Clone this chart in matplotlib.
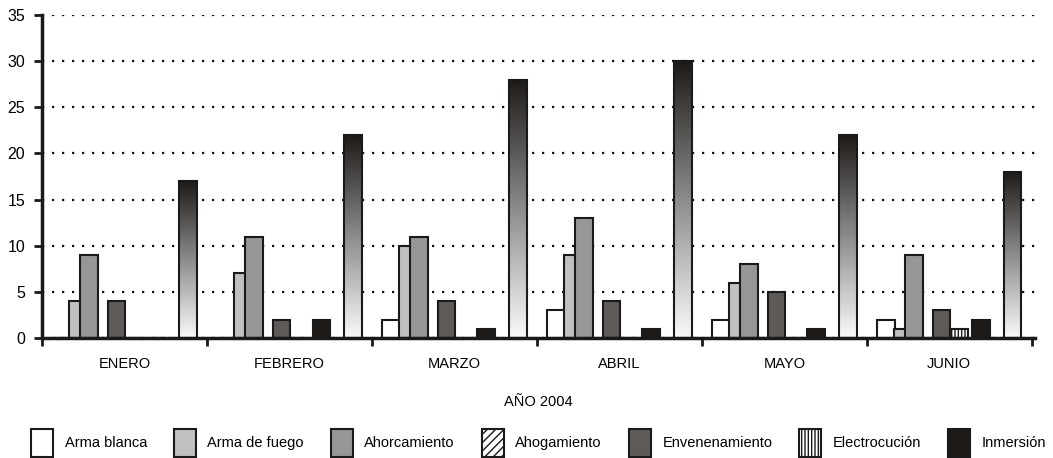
import numpy as np
import matplotlib
matplotlib.use("Agg")
import matplotlib.pyplot as plt
from matplotlib.patches import Patch
from matplotlib.colors import LinearSegmentedColormap

# suicide cases by method, first half of 2004
months = ['ENERO', 'FEBRERO', 'MARZO', 'ABRIL', 'MAYO', 'JUNIO']
arma_blanca = [0, 0, 2, 3, 2, 2]
arma_fuego = [4, 7, 10, 9, 6, 1]
ahorcamiento = [9, 11, 11, 13, 8, 9]
ahogamiento = [0, 0, 0, 0, 0, 0]
envenenamiento = [4, 2, 4, 4, 5, 3]
electrocucion = [0, 0, 0, 0, 0, 1]
inmersion = [0, 2, 1, 1, 1, 2]
labels = ['Arma blanca', 'Arma de fuego', 'Ahorcamiento', 'Ahogamiento',
          'Envenenamiento', 'Electrocución', 'Inmersión']

series = [arma_blanca, arma_fuego, ahorcamiento, ahogamiento,
          envenenamiento, electrocucion, inmersion]
total = np.sum(np.array(series), axis=0)

plt.rcParams['font.family'] = ['Liberation Sans', 'DejaVu Sans']
plt.rcParams['hatch.linewidth'] = 1.0

# left edge of each bar inside a month slot, and bar width
offsets = [0.064, 0.165, 0.232, 0.315, 0.400, 0.508, 0.640]
total_offset = 0.832
width = 0.106
styles = [
    dict(color='white'),
    dict(color='#c0c0c0'),
    dict(color='#969696'),
    dict(color='white', hatch='////'),
    dict(color='#5f5a58'),
    dict(color='white', hatch='|||||'),
    dict(color='#1e1a18'),
]

fig = plt.figure(figsize=(10.53, 4.58), dpi=100)
ax = fig.add_axes([0.0399, 0.262, 0.943, 0.705])

x = np.arange(len(months))
for vals, off, st in zip(series, offsets, styles):
    ax.bar(x + off, vals, width=width, align='edge', facecolor=st['color'],
           edgecolor='#1a1a1a', linewidth=1.5, hatch=st.get('hatch'), zorder=3)

# total bars with a vertical grey gradient
grad_cmap = LinearSegmentedColormap.from_list('g', ['#fafafa', '#8c8c8c', '#1e1a18'])
grad = np.linspace(0, 1, 256).reshape(-1, 1)
for xi, h in zip(x, total):
    x0 = xi + total_offset
    ax.imshow(grad, extent=[x0, x0 + width, 0, h], origin='lower',
              aspect='auto', cmap=grad_cmap, zorder=3)
    ax.bar(x0, h, width=width, align='edge', facecolor='none',
           edgecolor='#1a1a1a', linewidth=1.5, zorder=4)

ax.set_xlim(0, 6.02)
ax.set_ylim(0, 35)
ax.set_yticks(range(0, 36, 5))
ax.yaxis.grid(True, color='#111111', linestyle=(0, (1, 3.5)), linewidth=1.6)
ax.set_axisbelow(True)

for s in ['top', 'right']:
    ax.spines[s].set_visible(False)
for s in ['left', 'bottom']:
    ax.spines[s].set_linewidth(2.5)
    ax.spines[s].set_color('#1a1a1a')
    ax.spines[s].set_zorder(6)

ax.tick_params(axis='y', length=6, width=2, labelsize=11.5, pad=6, color='#1a1a1a')
ax.set_xticks(x + 0.5)
ax.set_xticklabels(months, fontsize=10.5)
ax.set_xticks(np.arange(0, 7), minor=True)
ax.tick_params(axis='x', which='major', length=0, pad=14)
ax.tick_params(axis='x', which='minor', length=6, width=2, color='#1a1a1a')
ax.set_xlabel('AÑO 2004', fontsize=10.5, labelpad=17)

handles = [Patch(facecolor=st['color'], edgecolor='#1a1a1a', linewidth=1.5,
                 hatch=st.get('hatch'), label=lab)
           for st, lab in zip(styles, labels)]
fig.legend(handles=handles, loc='lower left', ncol=7, frameon=False,
           bbox_to_anchor=(0.024, -0.01, 0.975, 0.08), mode='expand',
           handlelength=1.5, handleheight=2.6, handletextpad=0.8,
           fontsize=10.5, borderaxespad=0.0)

fig.savefig('out.png', dpi=100)
